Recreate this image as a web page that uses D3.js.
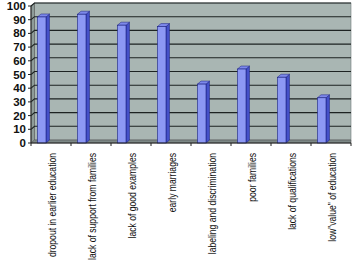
<!DOCTYPE html>
<html>
<head>
<meta charset="UTF-8">
<script src="https://d3js.org/d3.v7.min.js"></script>
<style>
  body { margin: 0; background: #fff; }
  .ylab { font-family: Arial, "Liberation Sans", sans-serif; font-weight: bold; font-size: 11.5px; fill: #111; }
  .xlab { font-family: Arial, "Liberation Sans", sans-serif; font-size: 10px; fill: #111; }
</style>
</head>
<body>
<svg width="354" height="267"></svg>
<script>
const categories = ["dropout in earlier education", "lack of support from families", "lack of good examples",
  "early marriages", "labeling and discrimination", "poor families", "lack of qualifications",
  "low\"value\" of education"];
const values = [92, 94, 86, 85, 43, 54, 48, 33];
const yTicks = [0, 10, 20, 30, 40, 50, 60, 70, 80, 90, 100];

const svg = d3.select("svg");
const dx = 3.5, dy = 3;   // 3d depth offset
const x = d3.scaleBand().domain(categories).range([31, 351]);
const y = d3.scaleLinear().domain([0, 100]).range([143, 6]);

// back wall
svg.append("rect").attr("x", 31 + dx).attr("y", y(100) - dy).attr("width", 320 - dx)
  .attr("height", y(0) - y(100)).attr("fill", "#a9b6b3").attr("stroke", "#6f7a78").attr("stroke-width", 0.6);
// side wall
svg.append("path")
  .attr("d", `M31,${y(0)} L31,${y(100)} L${31 + dx},${y(100) - dy} L${31 + dx},${y(0) - dy} Z`)
  .attr("fill", "#8e9b98").attr("stroke", "#555").attr("stroke-width", 0.6);
// floor
svg.append("path")
  .attr("d", `M31,${y(0)} L351,${y(0)} L${351},${y(0) - dy} L${31 + dx},${y(0) - dy} Z`)
  .attr("fill", "#7d8886").attr("stroke", "#555").attr("stroke-width", 0.6);

// gridlines
yTicks.filter(t => t > 0).forEach(t => {
  svg.append("path")
    .attr("d", `M31,${y(t)} L${31 + dx},${y(t) - dy} L351,${y(t) - dy}`)
    .attr("fill", "none").attr("stroke", "#1d2322").attr("stroke-width", 1.1);
});

// bars
const bw = 8.5;
const g = svg.append("g");
categories.forEach((c, i) => {
  const x0 = x(c) + 6.5, y0 = y(values[i]), yb = y(0);
  // side
  g.append("path")
    .attr("d", `M${x0 + bw},${yb} L${x0 + bw},${y0} L${x0 + bw + dx},${y0 - dy} L${x0 + bw + dx},${yb - dy} Z`)
    .attr("fill", "#4450c8").attr("stroke", "#1a2080").attr("stroke-width", 0.5);
  // top
  g.append("path")
    .attr("d", `M${x0},${y0} L${x0 + dx},${y0 - dy} L${x0 + bw + dx},${y0 - dy} L${x0 + bw},${y0} Z`)
    .attr("fill", "#7d88ea").attr("stroke", "#1a2080").attr("stroke-width", 0.5);
  // front
  g.append("rect").attr("x", x0).attr("y", y0).attr("width", bw).attr("height", yb - y0)
    .attr("fill", "#8c98f4").attr("stroke", "#1a2080").attr("stroke-width", 0.6);
});

// y axis
svg.append("line").attr("x1", 31).attr("x2", 31).attr("y1", y(0)).attr("y2", y(100))
  .attr("stroke", "#222");
yTicks.forEach(t => {
  svg.append("line").attr("x1", 28).attr("x2", 31).attr("y1", y(t)).attr("y2", y(t)).attr("stroke", "#222");
  svg.append("text").attr("class", "ylab").attr("x", 26).attr("y", y(t)).attr("dy", "0.35em")
    .attr("text-anchor", "end").text(t);
});

// x axis
svg.append("line").attr("x1", 31).attr("x2", 351).attr("y1", y(0)).attr("y2", y(0)).attr("stroke", "#222");
d3.range(categories.length + 1).forEach(i => {
  const xx = 31 + i * x.bandwidth();
  svg.append("line").attr("x1", xx).attr("x2", xx).attr("y1", y(0)).attr("y2", y(0) + 3).attr("stroke", "#222");
});
// labels are condensed horizontally (along the text) to match the narrow font
categories.forEach(c => {
  svg.append("text").attr("class", "xlab")
    .attr("transform", `translate(${x(c) + x.bandwidth() / 2 + 1.5},${y(0) + 10}) rotate(-90) scale(0.86,1)`)
    .attr("text-anchor", "end").attr("dy", "0.35em").text(c);
});
</script>
</body>
</html>
